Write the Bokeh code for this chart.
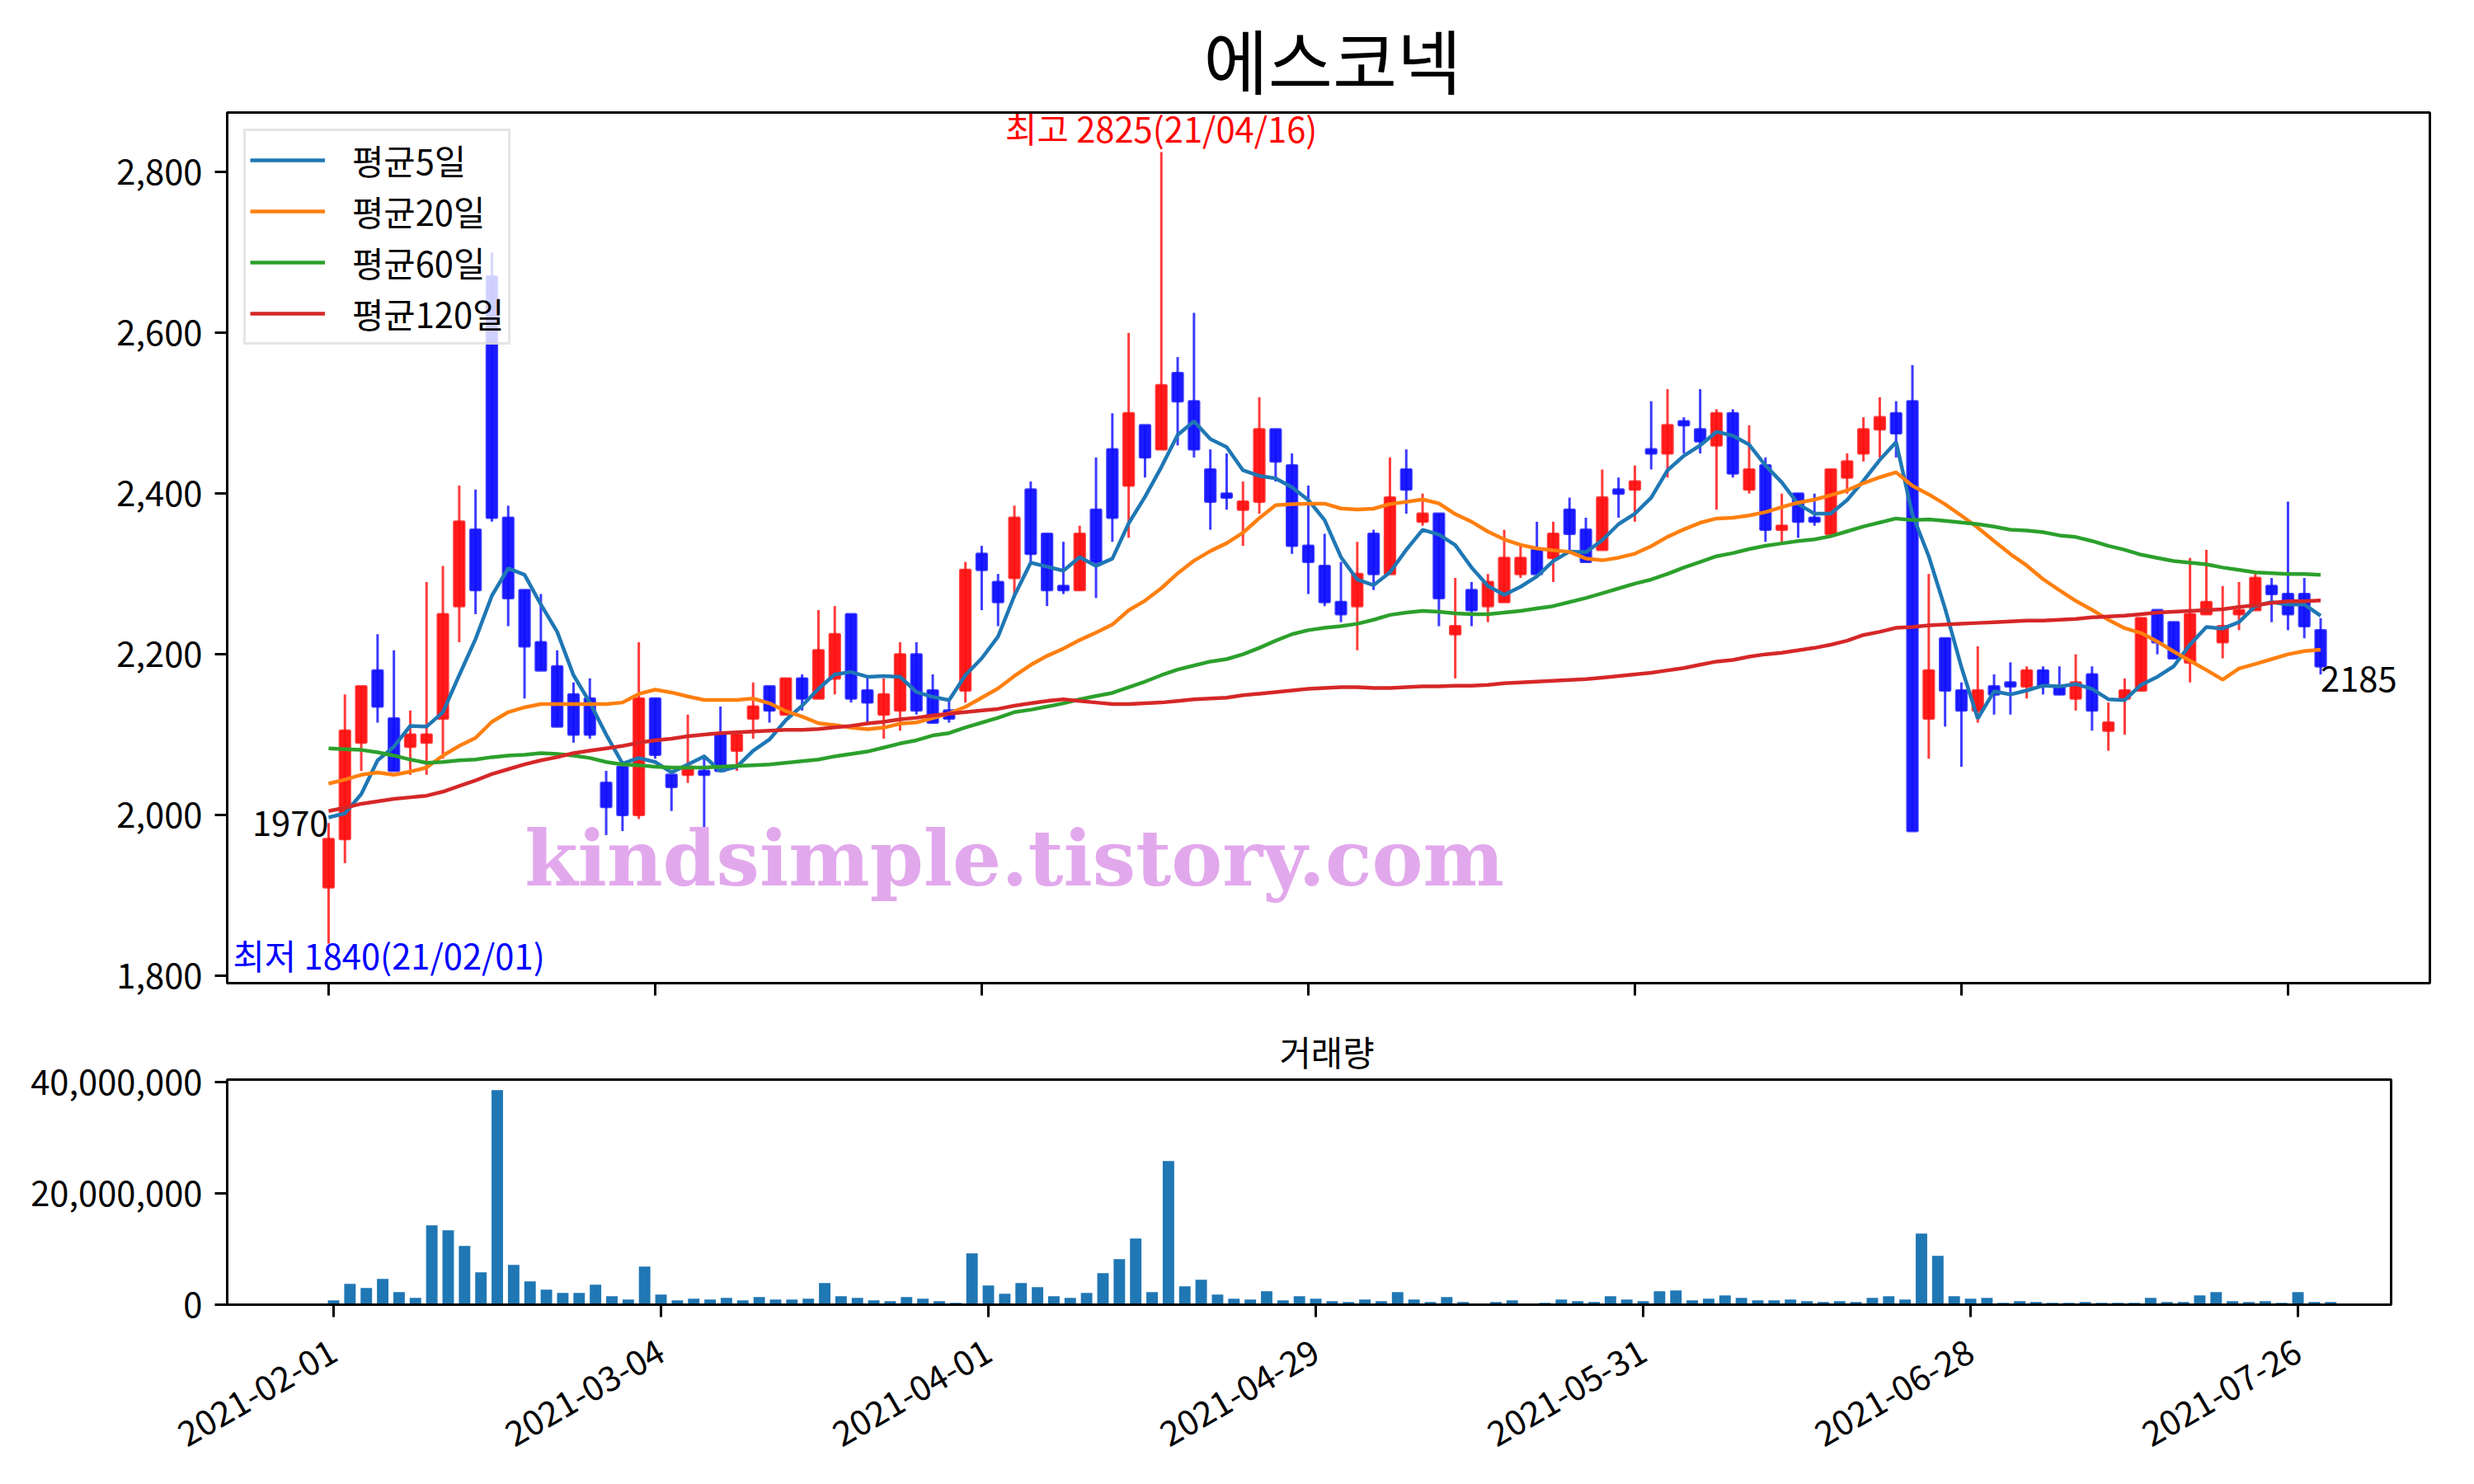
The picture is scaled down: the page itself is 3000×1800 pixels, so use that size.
import numpy as np
import pandas as pd
from math import pi
from bokeh.plotting import figure
from bokeh.layouts import column
from bokeh.models import (ColumnDataSource, Range1d, FixedTicker, NumeralTickFormatter,
                          CustomJSTickFormatter, Legend, LegendItem, Label)
from bokeh.embed import file_html
from bokeh.resources import INLINE

KFONT = "Noto Sans CJK KR"

stock_name = "에스코넥"
volume_title = "거래량"
ma_labels = ["평균5일", "평균20일", "평균60일", "평균120일"]
watermark = "kindsimple.tistory.com"

holidays = ["2021-02-11", "2021-02-12", "2021-03-01", "2021-05-05", "2021-05-19"]
dates = [d for d in pd.bdate_range("2021-02-01", "2021-07-28")
         if d.strftime("%Y-%m-%d") not in holidays]

opens = [1910, 1970, 2090, 2180, 2120, 2085, 2090, 2120, 2260, 2355,
         2670, 2370, 2280, 2215, 2185, 2150, 2145, 2040, 2060, 2000,
         2145, 2050, 2050, 2055, 2100, 2080, 2120, 2160, 2125, 2170,
         2145, 2170, 2250, 2155, 2125, 2130, 2200, 2155, 2130, 2155,
         2325, 2290, 2295, 2405, 2350, 2285, 2280, 2380, 2455, 2410,
         2485, 2455, 2550, 2515, 2430, 2400, 2380, 2390, 2480, 2435,
         2335, 2310, 2265, 2260, 2350, 2300, 2430, 2365, 2375, 2225,
         2280, 2260, 2265, 2300, 2330, 2320, 2380, 2355, 2330, 2405,
         2405, 2455, 2450, 2490, 2480, 2460, 2500, 2405, 2435, 2355,
         2400, 2370, 2350, 2420, 2450, 2480, 2500, 2515, 2120, 2220,
         2155, 2130, 2160, 2165, 2160, 2180, 2160, 2145, 2175, 2105,
         2145, 2155, 2255, 2240, 2190, 2250, 2215, 2250, 2255, 2285,
         2275, 2275, 2230]
highs = [1990, 2150, 2160, 2225, 2205, 2130, 2290, 2310, 2410, 2405,
         2700, 2385, 2280, 2275, 2205, 2165, 2170, 2055, 2060, 2215,
         2145, 2050, 2125, 2075, 2135, 2105, 2165, 2160, 2170, 2175,
         2255, 2260, 2250, 2170, 2170, 2215, 2215, 2175, 2145, 2315,
         2335, 2300, 2385, 2415, 2350, 2340, 2360, 2445, 2500, 2600,
         2485, 2825, 2570, 2625, 2455, 2450, 2415, 2520, 2480, 2450,
         2410, 2350, 2315, 2340, 2355, 2445, 2455, 2400, 2375, 2295,
         2290, 2300, 2355, 2335, 2365, 2365, 2395, 2370, 2430, 2420,
         2435, 2515, 2530, 2495, 2530, 2505, 2505, 2485, 2445, 2400,
         2400, 2400, 2430, 2450, 2495, 2520, 2515, 2560, 2300, 2220,
         2165, 2210, 2175, 2190, 2185, 2185, 2185, 2200, 2185, 2140,
         2170, 2245, 2255, 2240, 2320, 2330, 2285, 2290, 2300, 2295,
         2390, 2295, 2245]
lows = [1840, 1940, 2055, 2115, 2055, 2050, 2050, 2070, 2215, 2250,
        2365, 2235, 2145, 2180, 2110, 2090, 2095, 1975, 1980, 1995,
        2070, 2005, 2040, 1980, 2055, 2055, 2095, 2115, 2125, 2130,
        2145, 2150, 2140, 2115, 2095, 2105, 2125, 2115, 2115, 2140,
        2255, 2235, 2270, 2315, 2260, 2275, 2280, 2270, 2340, 2345,
        2420, 2455, 2460, 2445, 2355, 2380, 2335, 2375, 2415, 2325,
        2275, 2260, 2240, 2205, 2280, 2300, 2375, 2360, 2235, 2170,
        2235, 2240, 2265, 2295, 2300, 2290, 2330, 2315, 2330, 2370,
        2365, 2430, 2420, 2450, 2450, 2380, 2420, 2400, 2340, 2340,
        2345, 2360, 2350, 2400, 2440, 2445, 2445, 1980, 2070, 2110,
        2060, 2115, 2125, 2125, 2145, 2150, 2150, 2130, 2105, 2080,
        2100, 2155, 2200, 2195, 2165, 2250, 2195, 2230, 2255, 2240,
        2230, 2220, 2175]
closes = [1970, 2105, 2160, 2135, 2055, 2100, 2100, 2250, 2365, 2280,
          2370, 2270, 2210, 2180, 2110, 2100, 2100, 2010, 2000, 2145,
          2075, 2035, 2060, 2050, 2055, 2100, 2135, 2130, 2170, 2145,
          2205, 2225, 2145, 2140, 2150, 2200, 2130, 2115, 2120, 2305,
          2305, 2265, 2370, 2325, 2280, 2280, 2350, 2315, 2370, 2500,
          2445, 2535, 2515, 2455, 2390, 2395, 2390, 2480, 2440, 2335,
          2315, 2265, 2250, 2300, 2300, 2395, 2405, 2375, 2270, 2235,
          2255, 2290, 2320, 2320, 2300, 2350, 2350, 2315, 2395, 2400,
          2415, 2450, 2485, 2485, 2465, 2500, 2425, 2430, 2355, 2360,
          2365, 2365, 2430, 2440, 2480, 2495, 2475, 1980, 2180, 2155,
          2130, 2155, 2150, 2160, 2180, 2160, 2150, 2165, 2130, 2115,
          2155, 2245, 2215, 2195, 2250, 2265, 2235, 2255, 2295, 2275,
          2250, 2235, 2185]
volumes = [790000, 3750000, 3000000, 4640000, 2270000, 1240000, 14280000, 13390000, 10570000, 5830000,
           38590000, 7160000, 4200000, 2720000, 2120000, 2120000, 3610000, 1530000, 940000, 6870000,
           1830000, 790000, 1090000, 940000, 1240000, 790000, 1380000, 940000, 940000, 1090000,
           3900000, 1530000, 1240000, 790000, 640000, 1380000, 1090000, 640000, 350000, 9240000,
           3460000, 1980000, 3900000, 3160000, 1530000, 1240000, 2120000, 5680000, 8200000, 11900000,
           2270000, 25840000, 3310000, 4500000, 1830000, 1090000, 940000, 2420000, 790000, 1530000,
           1090000, 640000, 490000, 940000, 640000, 2270000, 940000, 490000, 1380000, 490000,
           200000, 490000, 790000, 200000, 350000, 940000, 640000, 490000, 1530000, 940000,
           640000, 2420000, 2570000, 790000, 1090000, 1680000, 1240000, 790000, 790000, 940000,
           640000, 490000, 640000, 490000, 1240000, 1530000, 940000, 12800000, 8800000, 1530000,
           1090000, 1240000, 350000, 640000, 490000, 350000, 350000, 490000, 350000, 350000,
           350000, 1240000, 490000, 490000, 1680000, 2270000, 640000, 490000, 640000, 350000,
           2270000, 490000, 490000]
ma5_head = [1997, 2002, 2026, 2068]
ma20_head = [2039, 2044, 2050, 2053, 2050, 2054, 2059, 2074, 2086, 2096,
             2116, 2128, 2134, 2138, 2138, 2138, 2138, 2138, 2140]
ma60 = [2083, 2082, 2081, 2078, 2074, 2069, 2065, 2066, 2068, 2069,
        2072, 2074, 2075, 2077, 2076, 2074, 2071, 2066, 2063, 2062,
        2060, 2059, 2059, 2059, 2060, 2061, 2062, 2063, 2065, 2067,
        2069, 2073, 2076, 2079, 2084, 2089, 2093, 2099, 2102, 2109,
        2115, 2121, 2128, 2131, 2135, 2139, 2144, 2148, 2152, 2159,
        2166, 2174, 2181, 2186, 2191, 2194, 2200, 2208, 2217, 2225,
        2230, 2233, 2235, 2238, 2243, 2249, 2252, 2254, 2253, 2251,
        2250, 2250, 2252, 2254, 2257, 2260, 2265, 2270, 2276, 2282,
        2288, 2293, 2300, 2308, 2315, 2322, 2326, 2331, 2335, 2338,
        2341, 2343, 2347, 2353, 2359, 2364, 2369, 2367, 2368, 2366,
        2364, 2362, 2359, 2355, 2354, 2352, 2348, 2346, 2341, 2335,
        2330, 2324, 2320, 2316, 2314, 2312, 2308, 2305, 2302, 2301,
        2300, 2300, 2299]
ma120 = [2005, 2009, 2014, 2017, 2020, 2022, 2024, 2029, 2036, 2043,
         2051, 2057, 2063, 2068, 2072, 2077, 2080, 2083, 2086, 2090,
         2093, 2095, 2098, 2100, 2102, 2103, 2104, 2105, 2106, 2106,
         2107, 2109, 2111, 2114, 2116, 2119, 2121, 2124, 2126, 2128,
         2130, 2132, 2136, 2139, 2142, 2144, 2142, 2140, 2138, 2138,
         2139, 2140, 2142, 2144, 2145, 2146, 2149, 2151, 2153, 2155,
         2157, 2158, 2159, 2159, 2158, 2158, 2159, 2160, 2160, 2161,
         2161, 2162, 2164, 2165, 2166, 2167, 2168, 2169, 2171, 2173,
         2175, 2177, 2180, 2183, 2187, 2191, 2193, 2197, 2200, 2202,
         2205, 2208, 2212, 2217, 2224, 2228, 2233, 2234, 2236, 2237,
         2238, 2239, 2240, 2241, 2242, 2242, 2243, 2244, 2246, 2247,
         2248, 2250, 2252, 2253, 2254, 2255, 2256, 2259, 2261, 2264,
         2266, 2266, 2267]

n = len(closes)
xs = np.arange(n)
c = np.array(closes, dtype=float)
ma5 = list(ma5_head) + [c[i - 4:i + 1].mean() for i in range(4, n)]
ma20 = list(ma20_head) + [c[i - 19:i + 1].mean() for i in range(19, n)]

up = [cl >= op for op, cl in zip(opens, closes)]
src = ColumnDataSource(dict(
    x=xs, high=highs, low=lows,
    top=[max(o, cl) for o, cl in zip(opens, closes)],
    bottom=[min(o, cl) for o, cl in zip(opens, closes)],
    body=["#ff1010" if u else "#1010ff" for u in up],
    wick=["#ff3c3c" if u else "#3c3cff" for u in up],
))

FS = "41.7px"

def style_axes(fig):
    for ax in (fig.xaxis + fig.yaxis):
        ax.axis_line_width = 3
        ax.axis_line_color = "black"
        ax.major_tick_out = 15
        ax.major_tick_in = 0
        ax.major_tick_line_width = 3
        ax.minor_tick_line_color = None
        ax.major_label_text_font = KFONT
        ax.major_label_text_font_size = FS
        ax.major_label_text_color = "black"
        ax.major_label_standoff = 15
    fig.xgrid.visible = False
    fig.ygrid.visible = False
    fig.outline_line_color = "black"
    fig.outline_line_width = 3
    fig.outline_line_alpha = 1.0
    fig.background_fill_color = "white"
    fig.border_fill_color = "white"

# ---------------- main price chart ----------------
FW, FH = 2671, 1056
XR = (-6.21, 128.69)
YR = (1790.75, 2874.25)
px_x = FW / (XR[1] - XR[0])   # screen px per x unit
px_y = FH / (YR[1] - YR[0])   # screen px per price unit

p = figure(frame_width=FW, frame_height=FH,
           x_range=Range1d(*XR), y_range=Range1d(*YR),
           min_border_left=275, min_border_right=46, min_border_top=136, min_border_bottom=28,
           output_backend="svg", toolbar_location=None)
p.title.text = stock_name
p.title.text_font = KFONT
p.title.text_font_size = "85px"
p.title.text_font_style = "normal"
p.title.text_color = "black"
p.title.align = "left"
p.title.offset = 1184

p.segment(x0="x", y0="high", x1="x", y1="low", source=src, line_color="wick", line_width=3)
p.vbar(x="x", width=0.62, top="top", bottom="bottom", source=src,
       fill_color="body", fill_alpha=0.95, line_color="body", line_alpha=0.8, line_width=3)

ma_colors = ["#1f77b4", "#ff7f0e", "#2ca02c", "#d62728"]
rs = []
for vals, col in zip([ma5, ma20, ma60, ma120], ma_colors):
    rs.append(p.line(xs, vals, line_color=col, line_width=4.5))

legend = Legend(items=[LegendItem(label=lab, renderers=[r]) for lab, r in zip(ma_labels, rs)],
                location="top_left")
legend.label_text_font = KFONT
legend.label_text_font_size = FS
legend.label_text_color = "black"
legend.glyph_width = 91
legend.glyph_height = 20
legend.label_standoff = 33
legend.label_height = 45
legend.spacing = 2
legend.padding = 5
legend.margin = 20
legend.border_line_color = "#cccccc"
legend.border_line_width = 3
legend.background_fill_alpha = 0.8
p.add_layout(legend)

p.xaxis.ticker = FixedTicker(ticks=list(range(0, n, 20)))
p.xaxis.formatter = CustomJSTickFormatter(code="return ''")
p.yaxis.ticker = FixedTicker(ticks=list(range(1800, 2801, 200)))
p.yaxis.formatter = NumeralTickFormatter(format="0,0")
style_axes(p)
p.xaxis.major_label_standoff = 0

imax = int(np.argmax(highs))
imin = int(np.argmin(lows))
p.add_layout(Label(x=imax, y=highs[imax],
                   text=f"최고 {highs[imax]}({dates[imax].strftime('%y/%m/%d')})",
                   text_color="red", text_align="center", text_baseline="bottom",
                   text_font=KFONT, text_font_size=FS))
# the low label would cross the frame's left edge (annotations are clipped to the frame),
# so it starts just inside the frame
p.add_layout(Label(x=imin - 116 / px_x, y=lows[imin] + 17 / px_y,
                   text=f"최저 {lows[imin]}({dates[imin].strftime('%y/%m/%d')})",
                   text_color="blue", text_align="left", text_baseline="top",
                   text_font=KFONT, text_font_size=FS))
p.add_layout(Label(x=0, y=closes[0] + 4 / px_y, text=str(closes[0]), text_color="black",
                   text_align="right", text_baseline="bottom", text_font=KFONT, text_font_size=FS))
p.add_layout(Label(x=n - 1, y=closes[-1], text=str(closes[-1]), text_color="black",
                   text_align="left", text_baseline="top", text_font=KFONT, text_font_size=FS))
p.add_layout(Label(x=42, y=1946, text=watermark, text_color="#e2a8ec",
                   text_align="center", text_baseline="alphabetic",
                   text_font="DejaVu Serif", text_font_style="bold", text_font_size="93px"))

# ---------------- volume chart ----------------
v = figure(frame_width=2624, frame_height=273,
           x_range=Range1d(-6.5, 125.69), y_range=Range1d(0, 40.5e6),
           min_border_left=275, min_border_right=93, min_border_top=89, min_border_bottom=195,
           output_backend="svg", toolbar_location=None)
v.title.text = volume_title
v.title.text_font = KFONT
v.title.text_font_size = FS
v.title.text_font_style = "normal"
v.title.text_color = "black"
v.title.align = "left"
v.title.offset = 1276
v.vbar(x=xs, width=0.7, top=volumes, bottom=0, fill_color="#1f77b4", line_color=None)
tick_idx = list(range(0, n, 20))
v.xaxis.ticker = FixedTicker(ticks=tick_idx)
v.xaxis.major_label_overrides = {i: dates[i].strftime("%Y-%m-%d") for i in tick_idx}
v.yaxis.ticker = FixedTicker(ticks=[0, 20000000, 40000000])
v.yaxis.formatter = NumeralTickFormatter(format="0,0")
style_axes(v)
v.xaxis.major_label_orientation = pi / 6
v.xaxis.major_label_standoff = 38

layout = column(p, v, spacing=0)
open("out.html", "w").write(file_html(layout, INLINE))
